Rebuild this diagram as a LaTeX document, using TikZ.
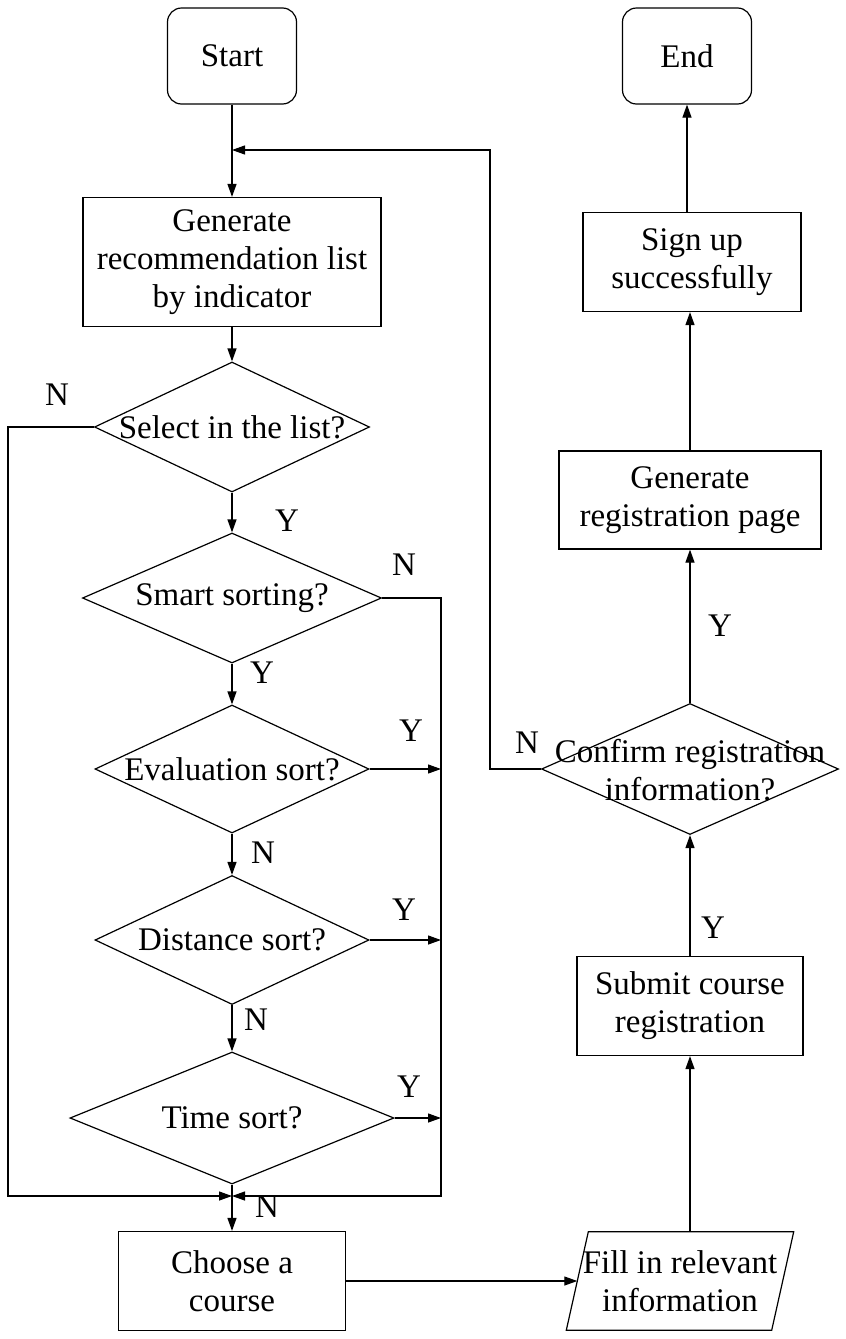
\documentclass[tikz,border=0pt]{standalone}
\usepackage{fontspec}
\setmainfont{Liberation Serif}
\usetikzlibrary{shapes.geometric,arrows.meta}
\begin{document}
\begin{tikzpicture}[x=1pt,y=-1pt,
 every node/.style={font=\fontsize{33}{38}\selectfont},
 box/.style={draw, line width=1.2pt, inner sep=0pt, align=center},
 rbox/.style={box, rounded corners=14pt},
 dia/.style={draw, diamond, line width=1.2pt, inner sep=0pt},
 txt/.style={align=center, inner sep=0pt},
 lbl/.style={inner sep=0pt},
 line/.style={line width=1.2pt},
 arr/.style={line, -{Triangle[length=13pt,width=9pt]}},
]
\fill[white] (0,0) rectangle (846,1339);
\useasboundingbox (0,0) rectangle (846,1339);

% left column
\node[rbox, minimum width=129pt, minimum height=96pt] (start) at (232,56) {Start};
\node[box, minimum width=298pt, minimum height=129pt] (gen) at (232,262) {Generate\\recommendation list\\by indicator};
\node[dia, minimum width=275pt, minimum height=130pt] (d1) at (232,427) {};
\node[txt] (t1) at (d1) {Select in the list?};
\node[dia, minimum width=299pt, minimum height=130pt] (d2) at (232,598) {};
\node[txt] (t2) at (d2) {Smart sorting?};
\node[dia, minimum width=274pt, minimum height=128pt] (d3) at (232,769) {};
\node[txt] (t3) at (d3) {Evaluation sort?};
\node[dia, minimum width=274pt, minimum height=129pt] (d4) at (232,940) {};
\node[txt] (t4) at (d4) {Distance sort?};
\node[dia, minimum width=324pt, minimum height=132pt] (d5) at (232,1118) {};
\node[txt] (t5) at (d5) {Time sort?};
\node[box, minimum width=227pt, minimum height=99pt] (choose) at (232,1281) {Choose a\\course};

% right column
\node[rbox, minimum width=129pt, minimum height=96pt] (end) at (687,56) {End};
\node[box, minimum width=218pt, minimum height=99pt] (signup) at (692,262) {Sign up\\successfully};
\node[box, minimum width=262pt, minimum height=98pt] (regpage) at (690,500) {Generate\\registration page};
\node[dia, minimum width=297pt, minimum height=131pt] (conf) at (690,769) {};
\node[txt] (t6) at (690,770) {Confirm registration\\information?};
\node[box, minimum width=226pt, minimum height=99pt] (submit) at (690,1006) {Submit course\\registration};
% parallelogram: invisible frame node + drawn outline
\node[inner sep=0pt, minimum width=205pt, minimum height=98pt] (fill) at (680,1281) {};
\draw[line] ([xshift=11pt]fill.north west) -- ([xshift=11pt]fill.north east)
  -- ([xshift=-11pt]fill.south east) -- ([xshift=-11pt]fill.south west) -- cycle;
\node[txt] (t7) at (680,1281) {Fill in relevant\\information};

% helper coordinates
\coordinate (merge) at (232,1196);
\coordinate (lline) at (8,0);
\coordinate (rline) at (441,0);
\coordinate (loopc) at (490,150);
\coordinate (loopin) at (232,150);

% connectors
\draw[arr] (start.south) -- (gen.north);
\draw[arr] (gen.south) -- (d1.north);
\draw[arr] (d1.south) -- (d2.north);
\draw[arr] (d2.south) -- (d3.north);
\draw[arr] (d3.south) -- (d4.north);
\draw[arr] (d4.south) -- (d5.north);
\draw[arr] (d5.south) -- (choose.north);
\draw[arr] (d1.west) -| (lline |- merge) -- (merge);
\draw[arr] (d2.east) -| (rline |- merge) -- (merge);
\draw[arr] (d3.east) -- (d3.east -| rline);
\draw[arr] (d4.east) -- (d4.east -| rline);
\draw[arr] (d5.east) -- (d5.east -| rline);
\draw[arr] (choose.east) -- (fill.west);
\draw[arr] (submit.south |- fill.north) -- (submit.south);
\draw[arr] (submit.north) -- (conf.south);
\draw[arr] (conf.north) -- (regpage.south);
\draw[arr] (regpage.north) -- (regpage.north |- signup.south);
\draw[arr] (end.south |- signup.north) -- (end.south);
\draw[arr] (conf.west) -| (loopc) -- (loopin);

% labels
\node[lbl] (l1) at (57,395) {N};
\node[lbl] (l2) at (287,521) {Y};
\node[lbl] (l3) at (404,565) {N};
\node[lbl] (l4) at (262,673) {Y};
\node[lbl] (l5) at (411,731) {Y};
\node[lbl] (l6) at (263,853) {N};
\node[lbl] (l7) at (404,910) {Y};
\node[lbl] (l8) at (256,1020) {N};
\node[lbl] (l9) at (409,1087) {Y};
\node[lbl] (l10) at (267,1207) {N};
\node[lbl] (l11) at (720,626) {Y};
\node[lbl] (l12) at (527,743) {N};
\node[lbl] (l13) at (713,928) {Y};
\end{tikzpicture}
\end{document}
